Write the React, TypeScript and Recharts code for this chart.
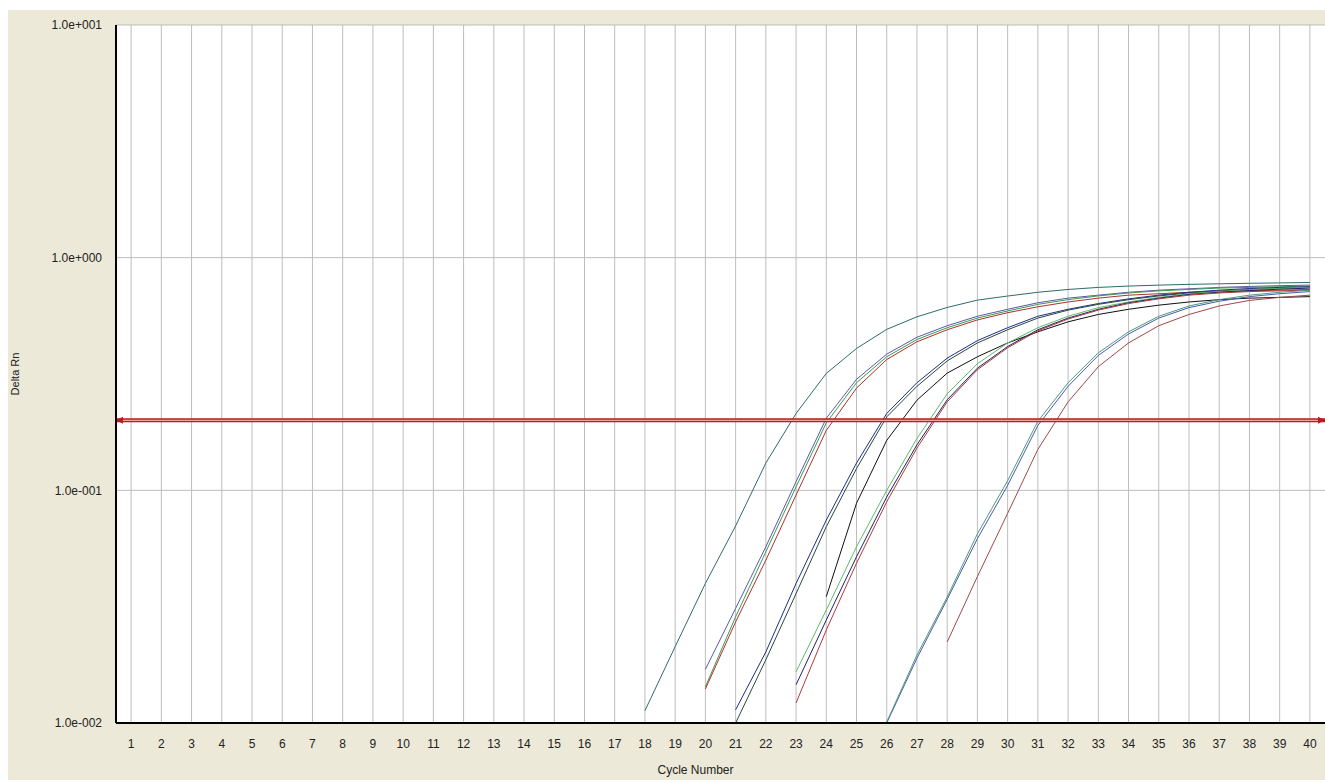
import React from "react";
import { LineChart, Line, XAxis, YAxis, CartesianGrid, ReferenceLine } from "recharts";

// Cycle numbers (x categories)
const cycles: number[] = Array.from({ length: 40 }, (_, i) => i + 1);

// Y axis ticks and their labels
const yTicks = [0.01, 0.1, 1, 10];
const yTickLabels = ["1.0e-002", "1.0e-001", "1.0e+000", "1.0e+001"];

const threshold = 0.2;

// Amplification curves: first cycle drawn, then Delta Rn values from that cycle to 40
const a1Start = 18;
const a1 = [0.0113, 0.0213, 0.0398, 0.0703, 0.131, 0.214, 0.318, 0.407, 0.492, 0.557, 0.611, 0.657, 0.684, 0.71, 0.73, 0.745, 0.755, 0.762, 0.768, 0.772, 0.776, 0.779, 0.782];

const b1Start = 20;
const b1 = [0.017, 0.0311, 0.0572, 0.109, 0.204, 0.3, 0.385, 0.455, 0.51, 0.56, 0.6, 0.64, 0.67, 0.69, 0.71, 0.725, 0.735, 0.745, 0.752, 0.758, 0.762];
const b2Start = 20;
const b2 = [0.0143, 0.0286, 0.0544, 0.1035, 0.195, 0.29, 0.375, 0.445, 0.5, 0.55, 0.59, 0.63, 0.66, 0.685, 0.705, 0.72, 0.73, 0.74, 0.745, 0.75, 0.755];
const b3Start = 20;
const b3 = [0.014, 0.0272, 0.0501, 0.0955, 0.181, 0.275, 0.365, 0.435, 0.49, 0.54, 0.58, 0.615, 0.645, 0.67, 0.69, 0.7, 0.71, 0.715, 0.72, 0.725, 0.73];

const c1Start = 21;
const c1 = [0.0114, 0.0202, 0.0398, 0.0745, 0.131, 0.214, 0.29, 0.37, 0.44, 0.5, 0.56, 0.6, 0.635, 0.665, 0.69, 0.71, 0.725, 0.737, 0.745, 0.75];
const c2Start = 21;
const c2 = [0.01, 0.0187, 0.036, 0.0698, 0.124, 0.207, 0.28, 0.36, 0.43, 0.49, 0.55, 0.595, 0.63, 0.66, 0.685, 0.705, 0.72, 0.73, 0.74, 0.745];
const c3Start = 24;
const c3 = [0.0349, 0.088, 0.164, 0.244, 0.319, 0.375, 0.43, 0.48, 0.53, 0.57, 0.6, 0.625, 0.645, 0.66, 0.67, 0.675, 0.68];

const d1Start = 23;
const d1 = [0.0166, 0.0306, 0.0572, 0.1, 0.167, 0.26, 0.35, 0.43, 0.5, 0.56, 0.61, 0.645, 0.675, 0.7, 0.715, 0.728, 0.738, 0.745];
const d2Start = 23;
const d2 = [0.0146, 0.0277, 0.0518, 0.0937, 0.157, 0.245, 0.335, 0.415, 0.49, 0.55, 0.6, 0.64, 0.67, 0.695, 0.71, 0.722, 0.732, 0.74];
const d3Start = 23;
const d3 = [0.0122, 0.0251, 0.0486, 0.0893, 0.152, 0.24, 0.33, 0.41, 0.485, 0.545, 0.595, 0.635, 0.665, 0.69, 0.705, 0.715, 0.72, 0.725];

const e1Start = 26;
const e1 = [0.01, 0.019, 0.034, 0.062, 0.105, 0.19, 0.28, 0.38, 0.47, 0.55, 0.61, 0.65, 0.68, 0.7, 0.715];
const e2Start = 26;
const e2 = [0.0101, 0.0196, 0.0348, 0.065, 0.11, 0.198, 0.29, 0.39, 0.48, 0.56, 0.62, 0.66, 0.69, 0.71, 0.725];
const e3Start = 28;
const e3 = [0.0223, 0.0426, 0.0796, 0.15, 0.24, 0.34, 0.43, 0.51, 0.57, 0.62, 0.655, 0.675, 0.69];

const curves = [
  { key: "a1", start: a1Start, values: a1, color: "#2F6B6B" },
  { key: "b1", start: b1Start, values: b1, color: "#5A5AAA" },
  { key: "b2", start: b2Start, values: b2, color: "#3C9A50" },
  { key: "b3", start: b3Start, values: b3, color: "#B03030" },
  { key: "c1", start: c1Start, values: c1, color: "#1E2E8A" },
  { key: "c2", start: c2Start, values: c2, color: "#2A4A3A" },
  { key: "c3", start: c3Start, values: c3, color: "#111111" },
  { key: "d1", start: d1Start, values: d1, color: "#5DBB6E" },
  { key: "d2", start: d2Start, values: d2, color: "#222266" },
  { key: "d3", start: d3Start, values: d3, color: "#B03A3A" },
  { key: "e1", start: e1Start, values: e1, color: "#4A5AB0" },
  { key: "e2", start: e2Start, values: e2, color: "#4F9A7A" },
  { key: "e3", start: e3Start, values: e3, color: "#A04848" },
];

const data = cycles.map((c) => {
  const row: Record<string, number | null> = { cycle: c };
  curves.forEach((cv) => {
    const idx = c - cv.start;
    row[cv.key] = idx >= 0 && idx < cv.values.length ? cv.values[idx] : null;
  });
  return row;
});

const FONT = "'Liberation Sans', Arial, sans-serif";

const ThresholdShape = (p: any) => {
  const { x1, y1, x2, y2 } = p;
  const h = 3.5;
  const len = 7;
  return (
    <g>
      <line x1={x1} y1={y1} x2={x2} y2={y2} stroke="#B41E1E" strokeWidth={4} />
      <line x1={x1 + 2} y1={y1} x2={x2 - 2} y2={y2} stroke="#F2A3A3" strokeWidth={1.3} />
      <polygon points={`${x1},${y1} ${x1 + len},${y1 - h} ${x1 + len},${y1 + h}`} fill="#B41E1E" />
      <polygon points={`${x2},${y2} ${x2 - len},${y2 - h} ${x2 - len},${y2 + h}`} fill="#B41E1E" />
    </g>
  );
};

const YLabel = (props: any) => {
  const vb = props.viewBox || {};
  const x = (vb.x ?? 0) + 7;
  const y = (vb.y ?? 0) + (vb.height ?? 0) / 2;
  return (
    <text
      x={x}
      y={y}
      transform={`rotate(-90, ${x}, ${y})`}
      textAnchor="middle"
      dominantBaseline="central"
      fill="#222"
      fontSize={11}
      fontFamily={FONT}
    >
      Delta Rn
    </text>
  );
};

export default function App() {
  return (
    <div
      style={{
        position: "absolute",
        left: 8,
        top: 10,
        width: 1317,
        height: 770,
        background: "#ECE9D8",
        overflow: "hidden",
      }}
    >
      <LineChart
        width={1317}
        height={770}
        data={data}
        margin={{ top: 15, right: 0, bottom: 0, left: 0 }}
        style={{ fontFamily: FONT }}
      >
        <CartesianGrid
          stroke="#BDBDBD"
          strokeWidth={1}
          fill="#FFFFFF"
          fillOpacity={1}
          verticalValues={cycles}
          horizontalValues={yTicks}
        />
        <XAxis
          dataKey="cycle"
          type="number"
          domain={[0.5, 40.5]}
          ticks={cycles}
          interval={0}
          allowDataOverflow
          height={57}
          tickLine={false}
          tickMargin={10}
          axisLine={{ stroke: "#000", strokeWidth: 2 }}
          tick={{ fill: "#222", fontSize: 12, fontFamily: FONT }}
          label={{ value: "Cycle Number", position: "insideBottom", offset: 6, dx: -25, fill: "#222", fontSize: 12, fontFamily: FONT }}
        />
        <YAxis
          scale="log"
          domain={[0.01, 10]}
          ticks={yTicks}
          allowDataOverflow
          width={108}
          tickLine={false}
          tickMargin={8}
          axisLine={{ stroke: "#000", strokeWidth: 2 }}
          tick={{ fill: "#222", fontSize: 12, fontFamily: FONT }}
          tickFormatter={(v: number) => yTickLabels[yTicks.indexOf(v)] ?? String(v)}
          label={<YLabel />}
        />
        {curves.map((cv) => (
          <Line
            key={cv.key}
            dataKey={cv.key}
            type="linear"
            stroke={cv.color}
            strokeWidth={1}
            dot={false}
            activeDot={false}
            connectNulls={false}
            isAnimationActive={false}
          />
        ))}
        <ReferenceLine y={threshold} shape={ThresholdShape} ifOverflow="visible" />
      </LineChart>
    </div>
  );
}
